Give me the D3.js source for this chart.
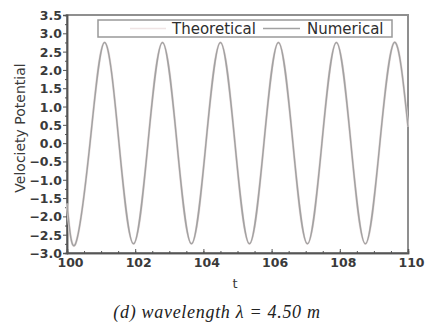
<!DOCTYPE html>
<html>
<head>
<meta charset="utf-8">
<script src="https://cdn.jsdelivr.net/npm/d3@7"></script>
<style>
  body { margin: 0; background: white; }
</style>
</head>
<body>
<div id="chart"></div>
<script>
// values: extrema and zero crossings of the wave
const tValues = [100.00, 100.25, 100.675, 101.10, 101.525, 101.95, 102.375, 102.80, 103.225,
  103.65, 104.075, 104.50, 104.925, 105.35, 105.775, 106.20, 106.625, 107.05, 107.475,
  107.90, 108.325, 108.75, 109.175, 109.60, 110.00];
const theoretical = [-1.65, -2.75, 0, 2.75, 0, -2.75, 0, 2.75, 0, -2.75, 0, 2.75, 0,
  -2.75, 0, 2.75, 0, -2.75, 0, 2.75, 0, -2.75, 0, 2.75, 0.45];
const numerical = [-1.65, -2.75, 0, 2.75, 0, -2.75, 0, 2.75, 0, -2.75, 0, 2.75, 0,
  -2.75, 0, 2.75, 0, -2.75, 0, 2.75, 0, -2.75, 0, 2.75, 0.45];
const xTicks = [100, 102, 104, 106, 108, 110];
const yTicks = [-3.0, -2.5, -2.0, -1.5, -1.0, -0.5, 0.0, 0.5, 1.0, 1.5, 2.0, 2.5, 3.0, 3.5];
const seriesNames = ["Theoretical", "Numerical"];
const seriesColors = ["#efe4e4", "#a2a2a2"];

let width = 425, height = 329;
let margin = { top: 15, bottom: 76, left: 67, right: 17 };

let svg = d3.select('#chart')
  .append('svg')
  .attr('width', width)
  .attr('height', height)
  .style('background', 'white');

let xScale = d3.scaleLinear()
  .domain([100, 110])
  .range([margin.left, width - margin.right]);

let yScale = d3.scaleLinear()
  .domain([-3.0, 3.5])
  .range([height - margin.bottom, margin.top]);

const axisColor = '#555';
const font = 'DejaVu Sans, sans-serif';

// frame
svg.append('rect')
  .attr('x', margin.left)
  .attr('y', margin.top)
  .attr('width', width - margin.right - margin.left)
  .attr('height', height - margin.bottom - margin.top)
  .attr('fill', 'none')
  .attr('stroke', '#8f8f8f')
  .attr('stroke-width', 2);

// minor ticks
let yMinor = svg.append('g')
  .attr('transform', `translate(${margin.left},0)`)
  .call(d3.axisLeft(yScale).tickValues(d3.range(-2.75, 3.5, 0.5)).tickSize(2).tickFormat(''));
let xMinor = svg.append('g')
  .attr('transform', `translate(0,${height - margin.bottom})`)
  .call(d3.axisBottom(xScale).tickValues(d3.range(100.5, 110, 0.5)).tickSize(-2).tickFormat(''));

// major axes
let yAxis = svg.append('g')
  .attr('transform', `translate(${margin.left},0)`)
  .call(d3.axisLeft(yScale).tickValues(yTicks).tickSize(4).tickPadding(1).tickFormat(d3.format('.1f')));

let xAxis = svg.append('g')
  .attr('transform', `translate(0,${height - margin.bottom})`)
  .call(d3.axisBottom(xScale).tickValues(xTicks).tickSize(-4).tickPadding(2).tickFormat(d3.format('d')));

[yMinor, xMinor, yAxis, xAxis].forEach(a => {
  a.select('.domain').attr('stroke', axisColor).attr('stroke-width', 1.5);
  a.selectAll('line').attr('stroke', axisColor);
});

yAxis.selectAll('text')
  .attr('font-family', font)
  .attr('font-size', 12.5)
  .attr('font-weight', 'bold')
  .attr('fill', '#3a3a3a')
  .attr('dy', '0.36em');

xAxis.selectAll('text')
  .attr('font-family', font)
  .attr('font-size', 12.5)
  .attr('font-weight', 'bold')
  .attr('fill', '#3a3a3a')
  .attr('dx', 3)
  .attr('y', 5);

// axis labels
svg.append('text')
  .attr('transform', 'translate(25,128) rotate(-90)')
  .attr('text-anchor', 'middle')
  .attr('font-family', font)
  .attr('font-size', 14)
  .attr('fill', '#3a3a3a')
  .text('Velociety Potential');

svg.append('text')
  .attr('x', 235)
  .attr('y', 288)
  .attr('text-anchor', 'middle')
  .attr('font-family', font)
  .attr('font-size', 13)
  .attr('fill', '#3a3a3a')
  .text('t');

// lines
let line = d3.line()
  .x((d, i) => xScale(tValues[i]))
  .y(d => yScale(d))
  .curve(d3.curveNatural);

svg.append('path')
  .datum(theoretical)
  .attr('d', line)
  .attr('fill', 'none')
  .attr('stroke', seriesColors[0])
  .attr('stroke-width', 2.5);

svg.append('path')
  .datum(numerical)
  .attr('d', line)
  .attr('fill', 'none')
  .attr('stroke', seriesColors[1])
  .attr('stroke-width', 1.5);

// legend
let legend = svg.append('g');
legend.append('rect')
  .attr('x', 98)
  .attr('y', 20)
  .attr('width', 294)
  .attr('height', 17)
  .attr('fill', 'white')
  .attr('stroke', '#999')
  .attr('stroke-width', 1.5);

const legendX = [[130, 166, 172], [263, 300, 307]];
seriesNames.forEach((name, i) => {
  legend.append('line')
    .attr('x1', legendX[i][0])
    .attr('x2', legendX[i][1])
    .attr('y1', 28.5)
    .attr('y2', 28.5)
    .attr('stroke', seriesColors[i])
    .attr('stroke-width', 1.5);
  legend.append('text')
    .attr('x', legendX[i][2])
    .attr('y', 34)
    .attr('font-family', font)
    .attr('font-size', 15)
    .attr('fill', '#2e2e2e')
    .text(name);
});

// caption
svg.append('text')
  .attr('x', 217)
  .attr('y', 318)
  .attr('text-anchor', 'middle')
  .attr('font-family', 'Liberation Serif, serif')
  .attr('font-style', 'italic')
  .attr('font-size', 18)
  .attr('letter-spacing', 0.7)
  .attr('fill', '#222')
  .text('(d) wavelength λ = 4.50 m');
</script>
</body>
</html>
